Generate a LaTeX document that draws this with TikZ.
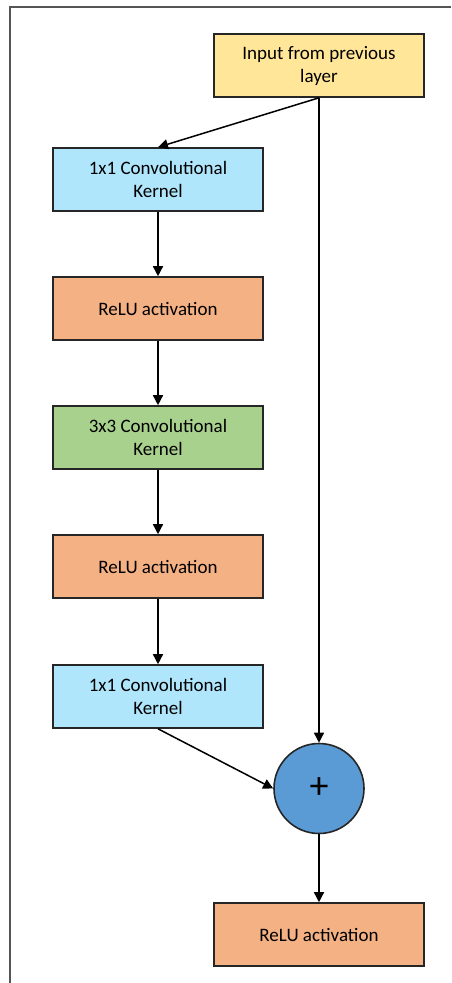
\documentclass[tikz,border=0pt]{standalone}
\usepackage{fontspec}
\setmainfont{Carlito}
\usepackage{tikz}
\usetikzlibrary{arrows.meta,positioning}

\definecolor{inputyellow}{HTML}{FFE699}
\definecolor{convblue}{HTML}{AFE6FC}
\definecolor{reluorange}{HTML}{F4B183}
\definecolor{convgreen}{HTML}{A9D18E}
\definecolor{sumblue}{HTML}{5B9BD5}
\definecolor{framegray}{HTML}{555555}

\tikzset{
  layerbox/.style={draw=black!85, line width=1.6pt, minimum width=210pt, minimum height=63pt,
    align=center, inner sep=2pt, font=\fontsize{19}{23}\selectfont},
  flow/.style={line width=1.5pt, -{Triangle[length=10pt,width=10pt]}}
}

\begin{document}
\begin{tikzpicture}[x=1pt, y=-1pt]
    % FULL I MARC
    \useasboundingbox (0,0) rectangle (451,983);
    \fill[white] (0,0) rectangle (451,983);
    \draw[framegray, line width=1.8pt] (10,983) -- (10,7) -- (451,7);

    % BLOCS DE LA BRANCA PRINCIPAL
    \node[layerbox, fill=inputyellow] (input) at (319,65.5) {Input from previous\\layer};
    \node[layerbox, fill=convblue] (conva) at (158,179.5) {1x1 Convolutional\\Kernel};
    \node[layerbox, fill=reluorange, below=64.4pt of conva] (relua) {ReLU activation};
    \node[layerbox, fill=convgreen, below=64.4pt of relua] (convb) {3x3 Convolutional\\Kernel};
    \node[layerbox, fill=reluorange, below=64.4pt of convb] (relub) {ReLU activation};
    \node[layerbox, fill=convblue, below=65.4pt of relub] (convc) {1x1 Convolutional\\Kernel};

    % SUMA I ACTIVACIÓ FINAL
    \node[circle, draw=black!85, line width=1.6pt, fill=sumblue, minimum size=90pt,
          font=\fontsize{38}{38}\selectfont] (sum) at (319,788.5) {+};
    \node[layerbox, fill=reluorange] (reluc) at (319,934.5) {ReLU activation};

    % FLETXES
    \draw[flow] (input.south) -- (conva.north);
    \draw[flow] (conva) -- (relua);
    \draw[flow] (relua) -- (convb);
    \draw[flow] (convb) -- (relub);
    \draw[flow] (relub) -- (convc);
    \draw[flow] (input.south) -- (sum.north);
    \draw[flow] (convc.south) -- (sum.west);
    \draw[flow] (sum) -- (reluc);
\end{tikzpicture}
\end{document}
